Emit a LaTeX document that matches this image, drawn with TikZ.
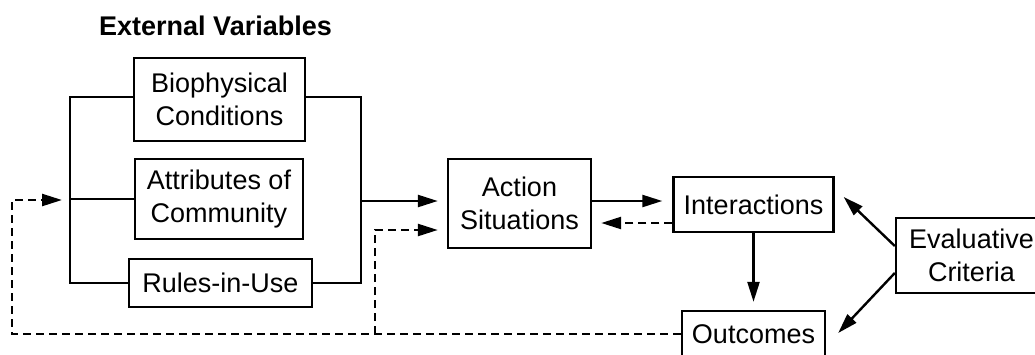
\documentclass[tikz,border=0pt]{standalone}
\usepackage{fontspec}
\setmainfont{Liberation Sans}
\usetikzlibrary{arrows.meta,calc}
\begin{document}
\begin{tikzpicture}[x=1pt,y=-1pt,
  box/.style={draw,line width=2.4pt,inner sep=0pt,align=center,font=\fontsize{27}{33}\selectfont},
  ln/.style={line width=2.4pt},
  arr/.style={ln,-{Triangle[length=20pt,width=12pt]}},
  dsh/.style={dash pattern=on 8pt off 5pt}]
\useasboundingbox (0,0) rectangle (1035,354);
\clip (0,0) rectangle (1035,354);
\node[font=\bfseries\fontsize{27}{33}\selectfont, anchor=base, inner sep=0pt] (title) at (215.5,35) {External Variables};
\node[box, minimum width=171pt, minimum height=83pt] (bio) at (219.5,99.5) {Biophysical\\Conditions};
\node[box, minimum width=168pt, minimum height=80pt] (attr) at (219,199) {Attributes of\\Community};
\node[box, minimum width=183pt, minimum height=48pt] (rules) at (220.5,283) {Rules-in-Use};
\node[box, minimum width=143pt, minimum height=89pt] (action) at (519.5,203.5) {Action\\Situations};
\node[box, minimum width=160pt, minimum height=55pt] (inter) at (753.5,204.5) {Interactions};
\node[box, minimum width=143pt, minimum height=46pt] (out) at (753.5,334) {Outcomes};
\node[box, minimum width=151pt, minimum height=75pt] (eval) at (971.5,255.5) {Evaluative\\Criteria};
\coordinate (bl) at (70,200);
\coordinate (br) at (361,201);
\coordinate (fb) at (12,200);
\coordinate (j) at (375,334);
% left bus
\draw[ln] ([yshift=2.5pt]bio.west) -| (bl |- rules.west) -- (rules.west);
\draw[ln] (attr.west) -- (bl |- attr.west);
% right bus
\draw[ln] ([yshift=2.5pt]bio.east) -| (br |- rules.east) -- (rules.east);
\draw[arr] (br) -- ([xshift=-9pt,yshift=2.5pt]action.west);
% action <-> interactions
\draw[arr] ([yshift=2.5pt]action.east) -- ([xshift=-10pt,yshift=3.5pt]inter.west);
\draw[arr,dsh] ([yshift=-18.5pt]inter.west) -- ([xshift=9pt,yshift=-19.5pt]action.east);
% interactions -> outcomes
\draw[arr] (inter.south) -- ([yshift=8pt]out.north);
% evaluative criteria
\draw[arr] ([yshift=9.5pt]eval.west) -- ([xshift=9pt,yshift=7.5pt]inter.east);
\draw[arr] ([yshift=-17.5pt]eval.west) -- ([xshift=12pt,yshift=1pt]out.east);
% feedback
\draw[arr,dsh] (out.west) -| (fb) -- ([xshift=-8pt]bl);
\draw[arr,dsh] (j) |- ([xshift=-9pt,yshift=-26.5pt]action.west);
\end{tikzpicture}
\end{document}
